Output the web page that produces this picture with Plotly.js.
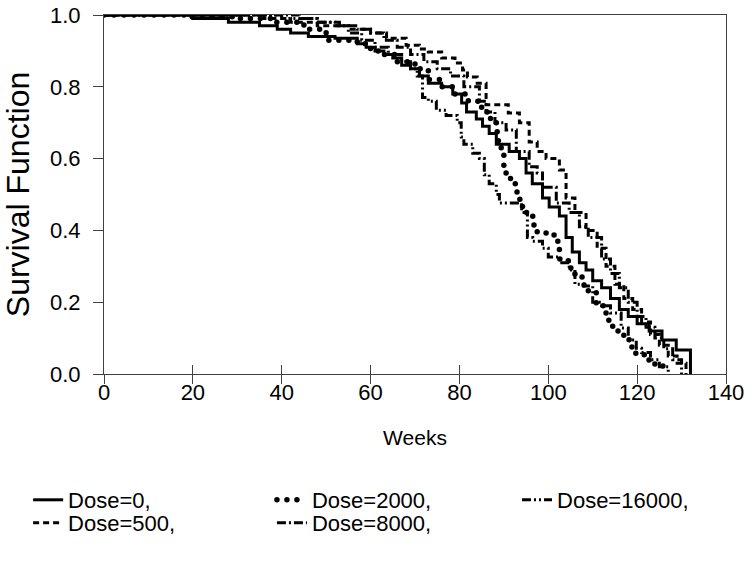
<!DOCTYPE html>
<html><head><meta charset="utf-8">
<script src="https://cdn.plot.ly/plotly-3.0.1.min.js"></script>
<style>
html,body{margin:0;padding:0;background:#fff}
#chart{width:752px;height:566px}
</style>
</head><body><div id="chart"></div>
<script>
// Kaplan-Meier step data (weeks at which survival changes, survival after the step)
const dose0Weeks = [0, 20, 28, 35, 39, 42, 46, 52, 57, 59, 61, 63, 65, 67, 69, 71, 73, 76, 78.5, 80.5, 81.6, 83.8, 85.2, 86.7, 88.3, 91.2, 93.5, 95, 96.4, 98.7, 100.2, 102.5, 104, 105.4, 107, 108.5, 110, 112, 114, 116, 118, 120, 122.7, 125.6, 128.8, 132];
const dose0Surv  = [1, 0.99, 0.98, 0.97, 0.96, 0.95, 0.94, 0.935, 0.92, 0.91, 0.90, 0.89, 0.88, 0.86, 0.85, 0.83, 0.81, 0.80, 0.78, 0.755, 0.73, 0.71, 0.69, 0.67, 0.64, 0.62, 0.60, 0.56, 0.53, 0.49, 0.465, 0.44, 0.38, 0.34, 0.31, 0.29, 0.26, 0.24, 0.21, 0.18, 0.16, 0.14, 0.12, 0.095, 0.067, 0];

const dose500Weeks = [0, 36, 42, 48, 55, 60, 63.6, 68, 71, 73, 76, 79, 80.7, 81.8, 84, 86, 91, 93.5, 95.7, 97.5, 99.5, 102.5, 104, 106, 108.5, 111, 113, 115, 117, 119, 121, 123, 125, 127, 129, 131];
const dose500Surv  = [1, 0.99, 0.98, 0.97, 0.96, 0.95, 0.935, 0.916, 0.905, 0.897, 0.88, 0.866, 0.847, 0.827, 0.81, 0.75, 0.727, 0.70, 0.646, 0.62, 0.60, 0.568, 0.49, 0.45, 0.40, 0.35, 0.30, 0.25, 0.21, 0.18, 0.145, 0.11, 0.08, 0.05, 0.03, 0];

const dose2000Weeks = [0, 18, 30, 38, 45, 50, 57, 60, 63, 66, 70, 73, 76, 79, 82, 85, 87, 88.5, 89.4, 90, 90.5, 91.5, 92.8, 93.6, 94.2, 95.5, 96.5, 97.5, 101.3, 102.5, 104.5, 106, 107.6, 109, 110.8, 112.4, 113.5, 114.5, 115.7, 117, 118.2, 119.3, 121.6, 124, 126];
const dose2000Surv  = [1, 0.995, 0.99, 0.98, 0.96, 0.93, 0.92, 0.90, 0.89, 0.87, 0.85, 0.82, 0.80, 0.78, 0.76, 0.73, 0.70, 0.65, 0.61, 0.574, 0.55, 0.53, 0.507, 0.48, 0.45, 0.44, 0.415, 0.393, 0.37, 0.32, 0.295, 0.276, 0.248, 0.228, 0.19, 0.17, 0.15, 0.13, 0.114, 0.10, 0.075, 0.058, 0.039, 0.022, 0];

const dose8000Weeks = [0, 44, 48, 53, 57, 60, 63, 66, 69, 72, 75, 78, 81, 84.5, 86, 88, 90.5, 92.8, 95.7, 97.5, 98.7, 101.8, 104.7, 107, 109, 112, 114, 116, 118, 120, 122, 124, 126, 128, 130];
const dose8000Surv  = [1, 0.99, 0.98, 0.97, 0.96, 0.95, 0.93, 0.91, 0.89, 0.87, 0.85, 0.83, 0.80, 0.76, 0.73, 0.70, 0.68, 0.62, 0.577, 0.56, 0.52, 0.476, 0.45, 0.41, 0.38, 0.32, 0.28, 0.24, 0.20, 0.16, 0.13, 0.10, 0.07, 0.04, 0];

const dose16000Weeks = [0, 40, 48, 52, 55, 58, 61, 64, 67, 69, 70.5, 71.7, 73, 74.8, 77, 79.5, 80.4, 81, 83, 84.5, 85.6, 86.7, 88.3, 89, 94, 95.3, 96.5, 98.7, 100, 102.5, 104.7, 106, 108, 110, 112, 114, 116.4, 118, 119.8, 121, 123, 125, 127];
const dose16000Surv  = [1, 0.99, 0.98, 0.97, 0.95, 0.93, 0.91, 0.89, 0.87, 0.85, 0.83, 0.77, 0.76, 0.735, 0.72, 0.70, 0.66, 0.64, 0.615, 0.60, 0.555, 0.53, 0.50, 0.476, 0.45, 0.38, 0.37, 0.35, 0.326, 0.31, 0.29, 0.25, 0.245, 0.20, 0.19, 0.17, 0.128, 0.095, 0.072, 0.06, 0.04, 0.02, 0];

const seriesNames = ['Dose=0,', 'Dose=500,', 'Dose=2000,', 'Dose=8000,', 'Dose=16000,'];
const xTickVals = [0, 20, 40, 60, 80, 100, 120, 140];
const yTickVals = [0, 0.2, 0.4, 0.6, 0.8, 1.0];
const yTickText = ['0.0', '0.2', '0.4', '0.6', '0.8', '1.0'];

const FONT = '"Liberation Sans", Arial, sans-serif';
const AX = '#404040';
const LEGEND_FONT = {size: 22, family: FONT, color: '#000'};

function kmTrace(x, y, name, dash, width, legendId, round) {
  return {
    x: x, y: y, name: name, type: 'scatter', mode: 'lines',
    line: {shape: 'hv', color: '#000', width: width, dash: dash},
    legend: legendId, meta: round ? 'roundcap' : '', hoverinfo: 'skip'
  };
}

const traces = [
  kmTrace(dose0Weeks, dose0Surv, seriesNames[0], 'solid', 3, 'legend', false),
  kmTrace(dose500Weeks, dose500Surv, seriesNames[1], '6px,4px', 3, 'legend2', false),
  kmTrace(dose2000Weeks, dose2000Surv, seriesNames[2], '0px,10px', 5.5, 'legend3', true),
  kmTrace(dose8000Weeks, dose8000Surv, seriesNames[3], '9px,3px,2px,3px', 3, 'legend4', false),
  kmTrace(dose16000Weeks, dose16000Surv, seriesNames[4], '9px,3px,2px,3px,2px,3px', 3, 'legend5', false),
  {x: [null], y: [null], xaxis: 'x2', type: 'scatter', mode: 'lines', showlegend: false, hoverinfo: 'skip'}
];

function leg(x, y) {
  return {orientation: 'v', x: x, xanchor: 'left', y: y, yanchor: 'middle',
          font: LEGEND_FONT, bgcolor: 'rgba(0,0,0,0)', borderwidth: 0};
}
const col1 = -0.122, col2 = 0.27, col3 = 0.664;
const row1 = -0.351, row2 = -0.415;

const layout = {
  width: 752, height: 566,
  margin: {l: 104, r: 26, t: 15, b: 192},
  paper_bgcolor: '#fff', plot_bgcolor: '#fff',
  font: {family: FONT, color: '#000'},
  showlegend: true,
  xaxis: {
    range: [0, 140], tickvals: xTickVals, ticks: 'outside', ticklen: 9, tickwidth: 1, tickcolor: AX,
    showline: true, linecolor: AX, linewidth: 1, mirror: true, showgrid: false, zeroline: false,
    tickfont: {size: 22, family: FONT}, automargin: false, ticklabelstandoff: -10,
    title: {text: 'Weeks', font: {size: 21, family: FONT}, standoff: 25}
  },
  xaxis2: {
    range: [0, 140], overlaying: 'x', anchor: 'y', side: 'bottom', tickvals: xTickVals,
    ticks: 'inside', ticklen: 9, tickwidth: 1, tickcolor: AX, showticklabels: false,
    showline: false, showgrid: false, zeroline: false
  },
  yaxis: {
    range: [0, 1], tickvals: yTickVals, ticktext: yTickText, ticks: 'outside', ticklen: 10, tickwidth: 1, tickcolor: AX,
    showline: true, linecolor: AX, linewidth: 1, mirror: true, showgrid: false, zeroline: false,
    tickfont: {size: 22, family: FONT}, automargin: false, ticklabelstandoff: 8,
    title: {text: 'Survival Function', font: {size: 32, family: FONT}, standoff: 16}
  },
  legend: leg(col1, row1),
  legend2: leg(col1, row2),
  legend3: leg(col2, row1),
  legend4: leg(col2, row2),
  legend5: leg(col3, row1)
};

Plotly.newPlot('chart', traces, layout, {staticPlot: true, displayModeBar: false}).then(function (gd) {
  gd.querySelectorAll('g.trace, g.traces').forEach(function (g) {
    const d = g.__data__;
    const tr = d && d[0] && d[0].trace;
    if (tr && tr.meta === 'roundcap') {
      g.querySelectorAll('path.js-line').forEach(function (p) { p.style.strokeLinecap = 'round'; });
    }
  });
});
</script>
</body></html>
